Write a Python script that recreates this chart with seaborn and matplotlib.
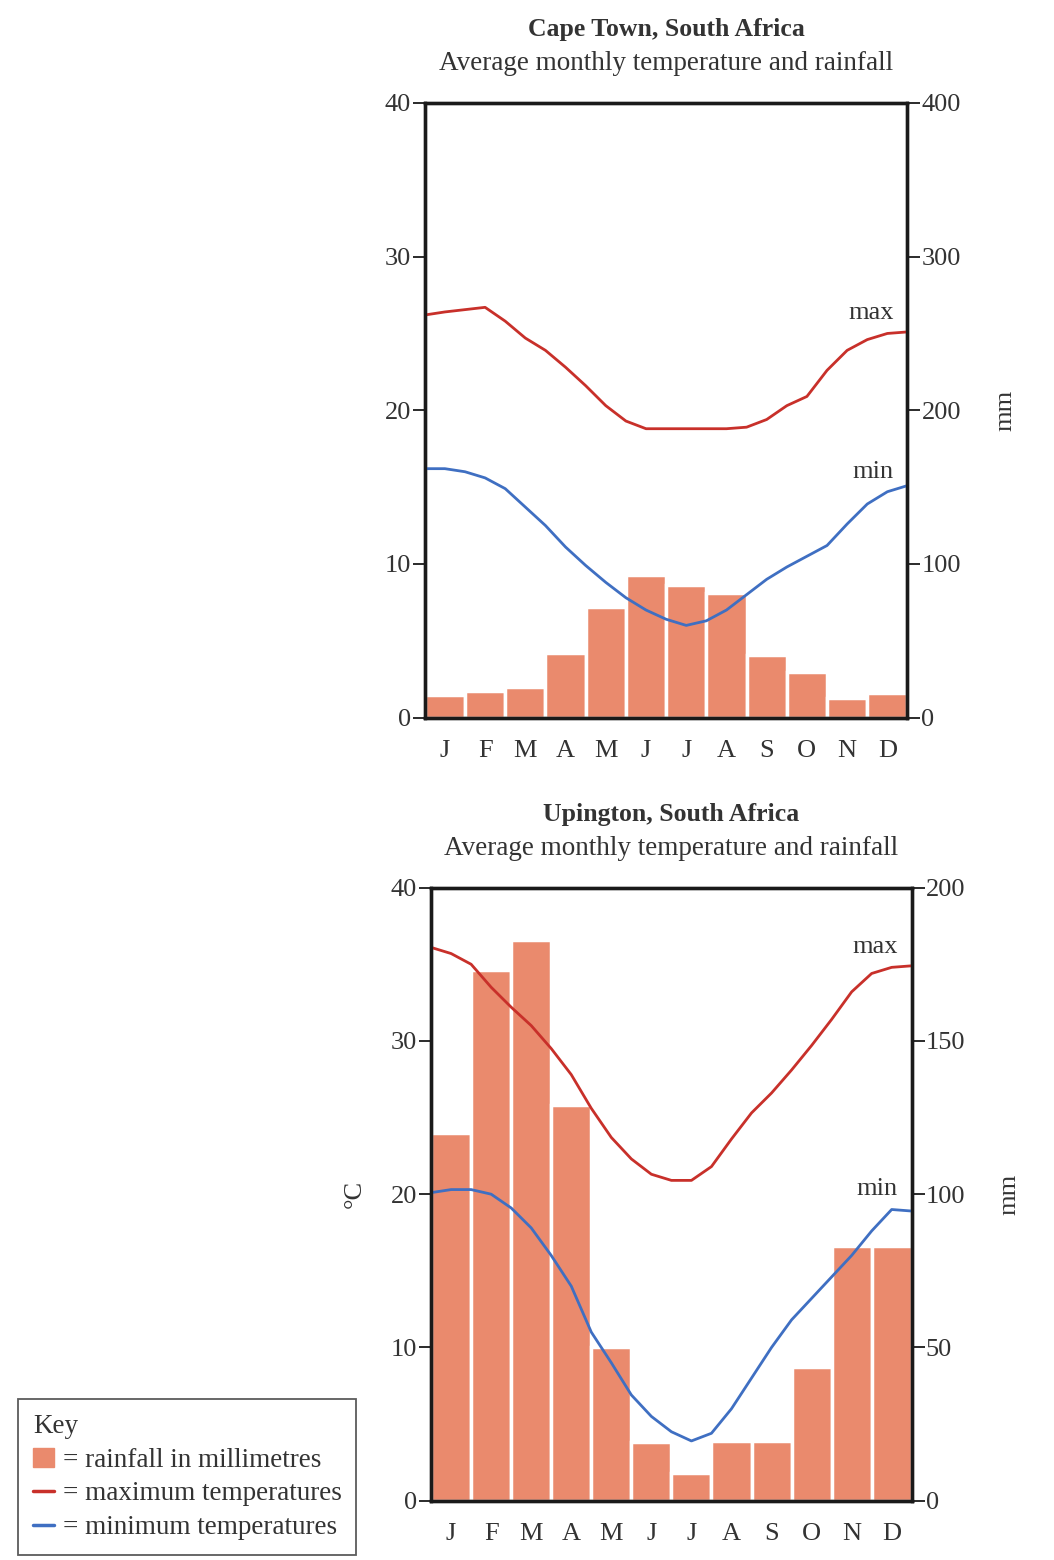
import numpy as np
import pandas as pd
import seaborn as sns
import matplotlib.pyplot as plt
from matplotlib.patches import Patch
from matplotlib.lines import Line2D

months = ['J', 'F', 'M', 'A', 'M', 'J', 'J', 'A', 'S', 'O', 'N', 'D']

# Cape Town: rainfall per month (mm)
cape_rain = [15, 17, 20, 42, 72, 93, 86, 81, 41, 30, 13, 16]
# temperatures read at every half month, from start of Jan to end of Dec
cape_max = [26.2, 26.4, 26.55, 26.7, 25.8, 24.7, 23.9, 22.8, 21.6, 20.3, 19.3, 18.8, 18.8,
            18.8, 18.8, 18.8, 18.9, 19.4, 20.3, 20.9, 22.6, 23.9, 24.6, 25.0, 25.1]
cape_min = [16.2, 16.2, 16.0, 15.6, 14.9, 13.7, 12.5, 11.1, 9.9, 8.8, 7.8, 7.0, 6.4,
            6.0, 6.3, 7.0, 8.0, 9.0, 9.8, 10.5, 11.2, 12.6, 13.9, 14.7, 15.1]

# Upington
up_rain = [120, 173, 183, 129, 50, 19, 9, 19.5, 19.5, 43.5, 83, 83]
up_max = [36.1, 35.7, 35.0, 33.5, 32.2, 31.0, 29.5, 27.8, 25.6, 23.7, 22.3, 21.3, 20.9,
          20.9, 21.8, 23.6, 25.3, 26.6, 28.1, 29.7, 31.4, 33.2, 34.4, 34.8, 34.9]
up_min = [20.1, 20.3, 20.3, 20.0, 19.1, 17.8, 16.0, 14.0, 11.0, 9.0, 6.9, 5.5, 4.5,
          3.9, 4.4, 6.0, 8.0, 10.0, 11.8, 13.2, 14.6, 16.0, 17.6, 19.0, 18.9]

temp_ticks = [0, 10, 20, 30, 40]
cape_rain_ticks = [0, 100, 200, 300, 400]
up_rain_ticks = [0, 50, 100, 150, 200]

BAR = '#EA8A6D'
RED = '#C8302A'
BLUE = '#3F6FC2'
TXT = '#333333'

sns.set_theme(style='white')
plt.rcParams['font.family'] = ['Liberation Serif', 'DejaVu Serif']

fig = plt.figure(figsize=(10.54, 15.6), dpi=100)


def draw_chart(rect, title, rain, tmax, tmin, rain_ticks, show_degc):
    ax = fig.add_axes(rect)
    ax2 = ax.twinx()

    # rainfall bars on the right-hand axis
    df = pd.DataFrame({'month': range(12), 'rain': rain})
    sns.barplot(data=df, x='month', y='rain', ax=ax2, color=BAR, width=1.0,
                edgecolor='white', linewidth=2.5, saturation=1)
    ax2.set_ylim(0, rain_ticks[-1])
    ax2.set_yticks(rain_ticks)
    ax2.set_ylabel('mm', rotation=90, fontsize=19, color=TXT, labelpad=24)

    # temperature lines on the left axis, drawn above the bars
    half = np.arange(len(tmax)) / 2 - 0.5
    sns.lineplot(x=half, y=tmax, ax=ax, color=RED, linewidth=2.0)
    sns.lineplot(x=half, y=tmin, ax=ax, color=BLUE, linewidth=2.0)
    ax.set_zorder(ax2.get_zorder() + 1)
    ax.patch.set_visible(False)
    ax.set_ylim(0, 40)
    ax.set_yticks(temp_ticks)
    ax.set_xlim(-0.5, 11.5)
    ax.set_xticks(range(12))
    ax.set_xticklabels(months)
    ax2.set_xlabel('')

    ax.text(11.15, tmax[-2] + 0.6, 'max', ha='right', va='bottom', fontsize=19, color=TXT)
    ax.text(11.15, tmin[-2] + 0.6, 'min', ha='right', va='bottom', fontsize=19, color=TXT)

    if show_degc:
        ax.set_ylabel('°C', rotation=90, fontsize=19, color=TXT, labelpad=18)

    for a in (ax, ax2):
        for s in a.spines.values():
            s.set_color('#1a1a1a')
            s.set_linewidth(2.4)
    ax.tick_params(axis='y', left=True, length=9, width=1.3, color='#1a1a1a',
                   labelsize=19, labelcolor=TXT, pad=1)
    ax2.tick_params(axis='y', right=True, length=9, width=1.3, color='#1a1a1a',
                    labelsize=19, labelcolor=TXT, pad=1)
    ax.tick_params(axis='x', bottom=False, labelsize=19, labelcolor=TXT, pad=10)
    ax2.tick_params(axis='x', bottom=False, labelbottom=False)

    cx = rect[0] + rect[2] / 2
    top = rect[1] + rect[3]
    fig.text(cx, top + 0.047, title, ha='center', va='center', fontsize=18.5,
             fontweight='bold', color=TXT)
    fig.text(cx, top + 0.025, 'Average monthly temperature and rainfall',
             ha='center', va='center', fontsize=19.5, color=TXT)
    return ax


draw_chart([0.403, 0.540, 0.458, 0.394], 'Cape Town, South Africa',
           cape_rain, cape_max, cape_min, cape_rain_ticks, False)
draw_chart([0.409, 0.038, 0.456, 0.393], 'Upington, South Africa',
           up_rain, up_max, up_min, up_rain_ticks, True)

handles = [Patch(facecolor=BAR, edgecolor=BAR),
           Line2D([], [], color=RED, linewidth=2.5),
           Line2D([], [], color=BLUE, linewidth=2.5)]
labels = ['= rainfall in millimetres', '= maximum temperatures', '= minimum temperatures']
leg = fig.legend(handles, labels, title='Key', loc='lower left',
                 bbox_to_anchor=(0.017, 0.003), frameon=True, fancybox=False,
                 fontsize=19.5, title_fontsize=19.5, alignment='left',
                 handlelength=0.8, handletextpad=0.3, labelspacing=0.33,
                 borderpad=0.55, borderaxespad=0)
leg.get_frame().set_edgecolor('#333333')
leg.get_frame().set_linewidth(1.3)
for t in leg.get_texts():
    t.set_color(TXT)
leg.get_title().set_color(TXT)

fig.savefig('out.png', dpi=100, facecolor='white')
